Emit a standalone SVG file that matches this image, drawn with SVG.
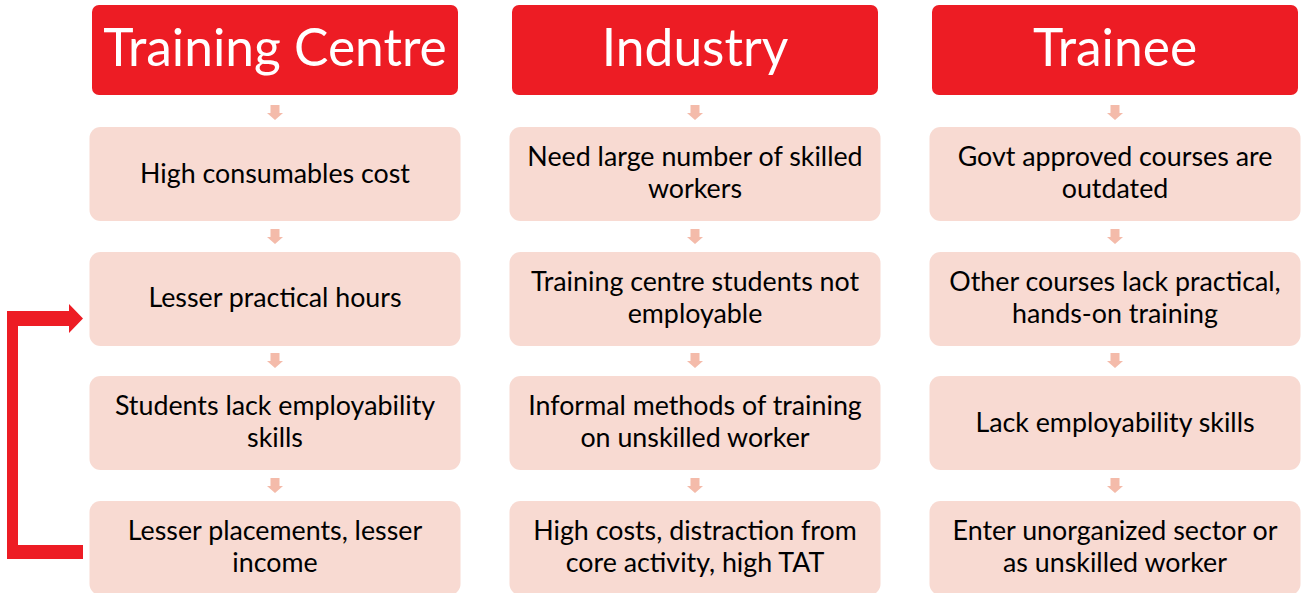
<svg xmlns="http://www.w3.org/2000/svg" width="1302" height="593" viewBox="0 0 1302 593">
<defs>
<style>
.hdr{fill:#ED1C24}
.box{fill:#F8DAD2}
.ht{font-family:Lato,"Open Sans",sans-serif;font-size:51.5px;fill:#fff;text-anchor:middle}
.bt{font-family:Lato,"Open Sans",sans-serif;font-size:26.8px;fill:#000;text-anchor:middle}
.sa{fill:#F4BBAA}
</style>
<path id="sarr" d="M-4.5,0 H4.5 V8 H8 L0,15 L-8,8 H-4.5 Z"/>
</defs>
<rect width="1302" height="593" fill="#fff"/>
<g id="col-training-centre">
<g id="h1"><rect class="hdr" x="92" y="5" width="366" height="90" rx="7"/><text class="ht" x="275" y="66">Training Centre</text></g>
<g id="n1a"><rect class="box" x="89.5" y="127" width="371" height="94" rx="11"/><text class="bt" x="275" y="183">High consumables cost</text></g>
<g id="n1b"><rect class="box" x="89.5" y="252" width="371" height="94" rx="11"/><text class="bt" x="275" y="307">Lesser practical hours</text></g>
<g id="n1c"><rect class="box" x="89.5" y="376" width="371" height="94" rx="11"/><text class="bt" x="275" y="415">Students lack employability</text><text class="bt" x="275" y="447">skills</text></g>
<g id="n1d"><rect class="box" x="89.5" y="501" width="371" height="94" rx="11"/><text class="bt" x="275" y="540">Lesser placements, lesser</text><text class="bt" x="275" y="572">income</text></g>
</g>
<g id="col-industry">
<g id="h2"><rect class="hdr" x="512" y="5" width="366" height="90" rx="7"/><text class="ht" x="695" y="66">Industry</text></g>
<g id="n2a"><rect class="box" x="509.5" y="127" width="371" height="94" rx="11"/><text class="bt" x="695" y="166">Need large number of skilled</text><text class="bt" x="695" y="198">workers</text></g>
<g id="n2b"><rect class="box" x="509.5" y="252" width="371" height="94" rx="11"/><text class="bt" x="695" y="291">Training centre students not</text><text class="bt" x="695" y="323">employable</text></g>
<g id="n2c"><rect class="box" x="509.5" y="376" width="371" height="94" rx="11"/><text class="bt" x="695" y="415">Informal methods of training</text><text class="bt" x="695" y="447">on unskilled worker</text></g>
<g id="n2d"><rect class="box" x="509.5" y="501" width="371" height="94" rx="11"/><text class="bt" x="695" y="540">High costs, distraction from</text><text class="bt" x="695" y="572">core activity, high TAT</text></g>
</g>
<g id="col-trainee">
<g id="h3"><rect class="hdr" x="932" y="5" width="366" height="90" rx="7"/><text class="ht" x="1115" y="66">Trainee</text></g>
<g id="n3a"><rect class="box" x="929.5" y="127" width="371" height="94" rx="11"/><text class="bt" x="1115" y="166">Govt approved courses are</text><text class="bt" x="1115" y="198">outdated</text></g>
<g id="n3b"><rect class="box" x="929.5" y="252" width="371" height="94" rx="11"/><text class="bt" x="1115" y="291">Other courses lack practical,</text><text class="bt" x="1115" y="323">hands-on training</text></g>
<g id="n3c"><rect class="box" x="929.5" y="376" width="371" height="94" rx="11"/><text class="bt" x="1115" y="432">Lack employability skills</text></g>
<g id="n3d"><rect class="box" x="929.5" y="501" width="371" height="94" rx="11"/><text class="bt" x="1115" y="540">Enter unorganized sector or</text><text class="bt" x="1115" y="572">as unskilled worker</text></g>
</g>
<g id="connectors">
<use href="#sarr" class="sa" x="275" y="105"/>
<use href="#sarr" class="sa" x="275" y="229"/>
<use href="#sarr" class="sa" x="275" y="353"/>
<use href="#sarr" class="sa" x="275" y="478"/>
<use href="#sarr" class="sa" x="695" y="105"/>
<use href="#sarr" class="sa" x="695" y="229"/>
<use href="#sarr" class="sa" x="695" y="353"/>
<use href="#sarr" class="sa" x="695" y="478"/>
<use href="#sarr" class="sa" x="1115" y="105"/>
<use href="#sarr" class="sa" x="1115" y="229"/>
<use href="#sarr" class="sa" x="1115" y="353"/>
<use href="#sarr" class="sa" x="1115" y="478"/>
<path id="loop" fill="#ED1C24" d="M83,545 V559 H7 V311 H69 V304 L83,318.5 L69,333 V326 H18 V545 Z"/>
</g>
</svg>
